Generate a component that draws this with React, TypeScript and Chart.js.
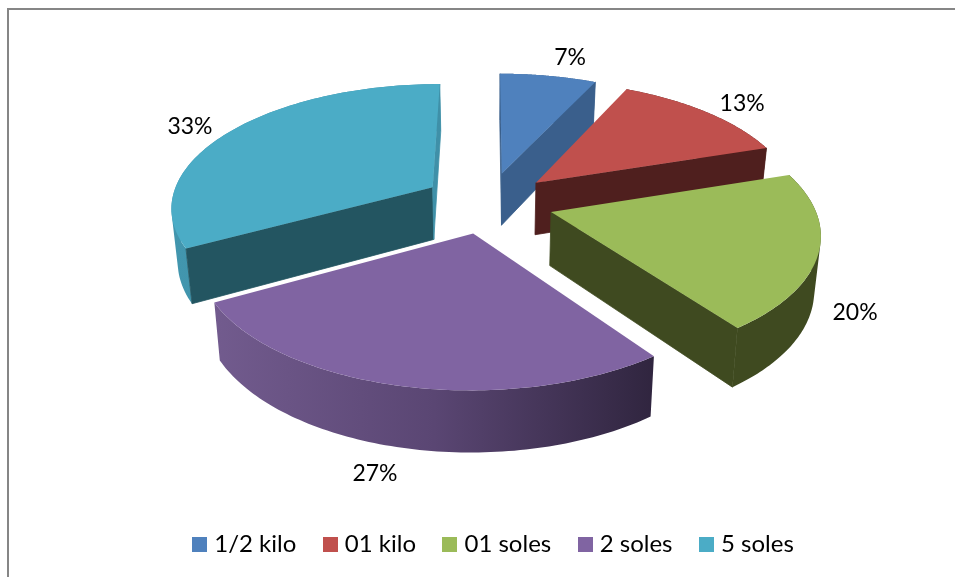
import React, { useEffect, useRef } from "react";
import { Chart, registerables } from "chart.js";

Chart.register(...registerables);

// Shares of each price point, in percent
const categories = ["1/2 kilo", "01 kilo", "01 soles", "2 soles", "5 soles"];
const shares = [7, 13, 20, 27, 33];

// Slice colours: lid, cut faces, and the outer wall from left to right
const lidColors = ["#4F81BD", "#C0504D", "#9BBB59", "#8064A2", "#4BACC6"];
const endFaceColors = ["#3A5F8C", "#4F1F1E", "#3F4A20", "#30253F", "#3F90A8"];
const startFaceColors = ["#3A5F8C", "#4F1F1E", "#3F4A20", "#30253F", "#235561"];
const wallStops = [
  ["#3A5F8C", "#3A5F8C"],
  ["#4F1F1E", "#4F1F1E"],
  ["#3F4A20", "#3F4A20"],
  ["#725B8E", "#5A4673", "#30253F"],
  ["#4296AE", "#3C8CA4"],
];

// Explosion of each slice, in the pie's own pixels
const explode = [40, 40, 40, 40, 40];

// Back-to-front painting order of the slices
const paintOrder = [4, 0, 1, 2, 3];

// Small shifts that keep the percent labels clear of the walls
const labelNudgeX = [13, 2, -26, -6, 0];
const labelNudgeY = [0, 5, 50, 47, 7];

const FONT = "Lato, Carlito, sans-serif";
const VIEW = { cx: 488, cy: 202.5, r: 262, tilt: 819, k: 0.15, depth: 53, growth: 0.75, squeeze: 0.98 };

type P = { x: number; y: number; s: number };

// Perspective projection of a point on the pie's unit disc onto the canvas
function project(u: number, v: number): P {
  const s = 1 / (1 - VIEW.k * v);
  return { x: VIEW.cx + VIEW.r * u * s, y: VIEW.cy + VIEW.tilt * (s - 1), s };
}

// The same point on the underside of the pie
function drop(p: P): P {
  return {
    x: VIEW.cx + (p.x - VIEW.cx) * VIEW.squeeze,
    y: p.y + VIEW.depth * (1 + (p.s - 1) * VIEW.growth),
    s: p.s,
  };
}

function signedArea(q: P[]) {
  let area = 0;
  q.forEach((p, i) => {
    const n = q[(i + 1) % q.length];
    area += p.x * n.y - n.x * p.y;
  });
  return area;
}

function fillPoly(ctx: CanvasRenderingContext2D, pts: P[], fill: string | CanvasGradient, seal = false) {
  ctx.beginPath();
  pts.forEach((p, i) => (i ? ctx.lineTo(p.x, p.y) : ctx.moveTo(p.x, p.y)));
  ctx.closePath();
  ctx.fillStyle = fill;
  ctx.fill();
  if (seal) {
    // A hairline in the same colour closes the gap to the neighbouring wall
    ctx.strokeStyle = fill;
    ctx.lineWidth = 0.8;
    ctx.stroke();
  }
}

// Adds a quad to the current path, always wound the same way
function addQuad(ctx: CanvasRenderingContext2D, q: P[]) {
  const pts = signedArea(q) < 0 ? q.slice().reverse() : q;
  pts.forEach((p, i) => (i ? ctx.lineTo(p.x, p.y) : ctx.moveTo(p.x, p.y)));
  ctx.closePath();
}

// Reads the geometry Chart.js computed for an arc, normalised to its radius
function sliceGeometry(el: any) {
  const { startAngle, endAngle, outerRadius } = el.getProps(["startAngle", "endAngle", "outerRadius"], true);
  const mid = (startAngle + endAngle) / 2;
  const e = (el.options.offset || 0) / outerRadius;
  return { startAngle, endAngle, mid, ou: Math.cos(mid) * e, ov: Math.sin(mid) * e };
}

const pie3dPlugin = {
  id: "pie3d",
  beforeDraw(chart: any) {
    const { ctx, width, height } = chart;
    ctx.save();
    ctx.fillStyle = "#FFFFFF";
    ctx.fillRect(0, 0, width, height);
    ctx.fillStyle = "#868686";
    ctx.fillRect(7, 8, width - 7, 2);
    ctx.fillRect(7, 8, 2, height - 8);
    ctx.restore();
  },
  // The extruded slices replace the flat arcs
  beforeDatasetDraw(chart: any) {
    const ctx: CanvasRenderingContext2D = chart.ctx;
    const arcs = chart.getDatasetMeta(0).data;
    ctx.save();
    paintOrder.forEach((i) => {
      const g = sliceGeometry(arcs[i]);
      const apex = project(g.ou, g.ov);
      const rim: P[] = [];
      const steps = 90;
      for (let n = 0; n <= steps; n++) {
        const a = g.startAngle + ((g.endAngle - g.startAngle) * n) / steps;
        rim.push(project(g.ou + Math.cos(a), g.ov + Math.sin(a)));
      }
      const first = rim[0];
      const last = rim[steps];

      // Outer wall, shaded across its width. The rim steps share one path,
      // consistently wound, so there are no seams and nothing cancels out.
      const xs = rim.map((p) => p.x);
      const grad = ctx.createLinearGradient(Math.min(...xs), 0, Math.max(...xs), 0);
      wallStops[i].forEach((c, n, all) => grad.addColorStop(n / (all.length - 1), c));
      ctx.beginPath();
      for (let n = 0; n < steps; n++) {
        addQuad(ctx, [rim[n], rim[n + 1], drop(rim[n + 1]), drop(rim[n])]);
      }
      ctx.fillStyle = grad;
      ctx.fill("nonzero");

      // Cut faces, only where they turn towards the viewer
      const startFace = [apex, first, drop(first), drop(apex)];
      const endFace = [apex, last, drop(last), drop(apex)];
      if (signedArea(startFace) < 0) fillPoly(ctx, startFace, startFaceColors[i], true);
      if (signedArea(endFace) > 0) fillPoly(ctx, endFace, endFaceColors[i], true);

      fillPoly(ctx, [apex, ...rim], lidColors[i]);
    });
    ctx.restore();
    return false;
  },
  afterDatasetsDraw(chart: any) {
    const ctx: CanvasRenderingContext2D = chart.ctx;
    const arcs = chart.getDatasetMeta(0).data;
    ctx.save();
    ctx.fillStyle = "#000000";
    ctx.font = `23px ${FONT}`;
    ctx.textBaseline = "middle";

    // Percent labels just outside each slice
    ctx.textAlign = "center";
    arcs.forEach((el: any, i: number) => {
      const g = sliceGeometry(el);
      const p = project(g.ou + 1.22 * Math.cos(g.mid), g.ov + 1.22 * Math.sin(g.mid));
      ctx.fillText(`${shares[i]}%`, p.x + labelNudgeX[i], p.y + labelNudgeY[i]);
    });

    // Legend row along the bottom
    ctx.font = `24px ${FONT}`;
    const box = 15;
    const gap = 7;
    const spacing = 26.5;
    const y = 544.5;
    const widths = categories.map((c) => ctx.measureText(c).width);
    const total = widths.reduce((a, w) => a + w + box + gap, 0) + spacing * (categories.length - 1);
    let x = 493 - total / 2;
    ctx.textAlign = "left";
    categories.forEach((c, i) => {
      ctx.fillStyle = lidColors[i];
      ctx.fillRect(Math.round(x), y - box / 2, box, box);
      ctx.fillStyle = "#000000";
      ctx.fillText(c, x + box + gap, y);
      x += box + gap + widths[i] + spacing;
    });
    ctx.restore();
  },
};

export default function App() {
  const ref = useRef<HTMLCanvasElement>(null);

  useEffect(() => {
    document.body.style.margin = "0";
    const chart = new Chart(ref.current!, {
      type: "pie",
      data: {
        labels: categories,
        datasets: [{ data: shares, backgroundColor: lidColors, borderWidth: 0, offset: explode }],
      },
      options: {
        animation: false,
        responsive: false,
        events: [],
        radius: 160,
        plugins: { legend: { display: false }, tooltip: { enabled: false } },
      },
      plugins: [pie3dPlugin],
    } as any);
    return () => chart.destroy();
  }, []);

  return <canvas ref={ref} width={955} height={577} style={{ display: "block" }} />;
}
